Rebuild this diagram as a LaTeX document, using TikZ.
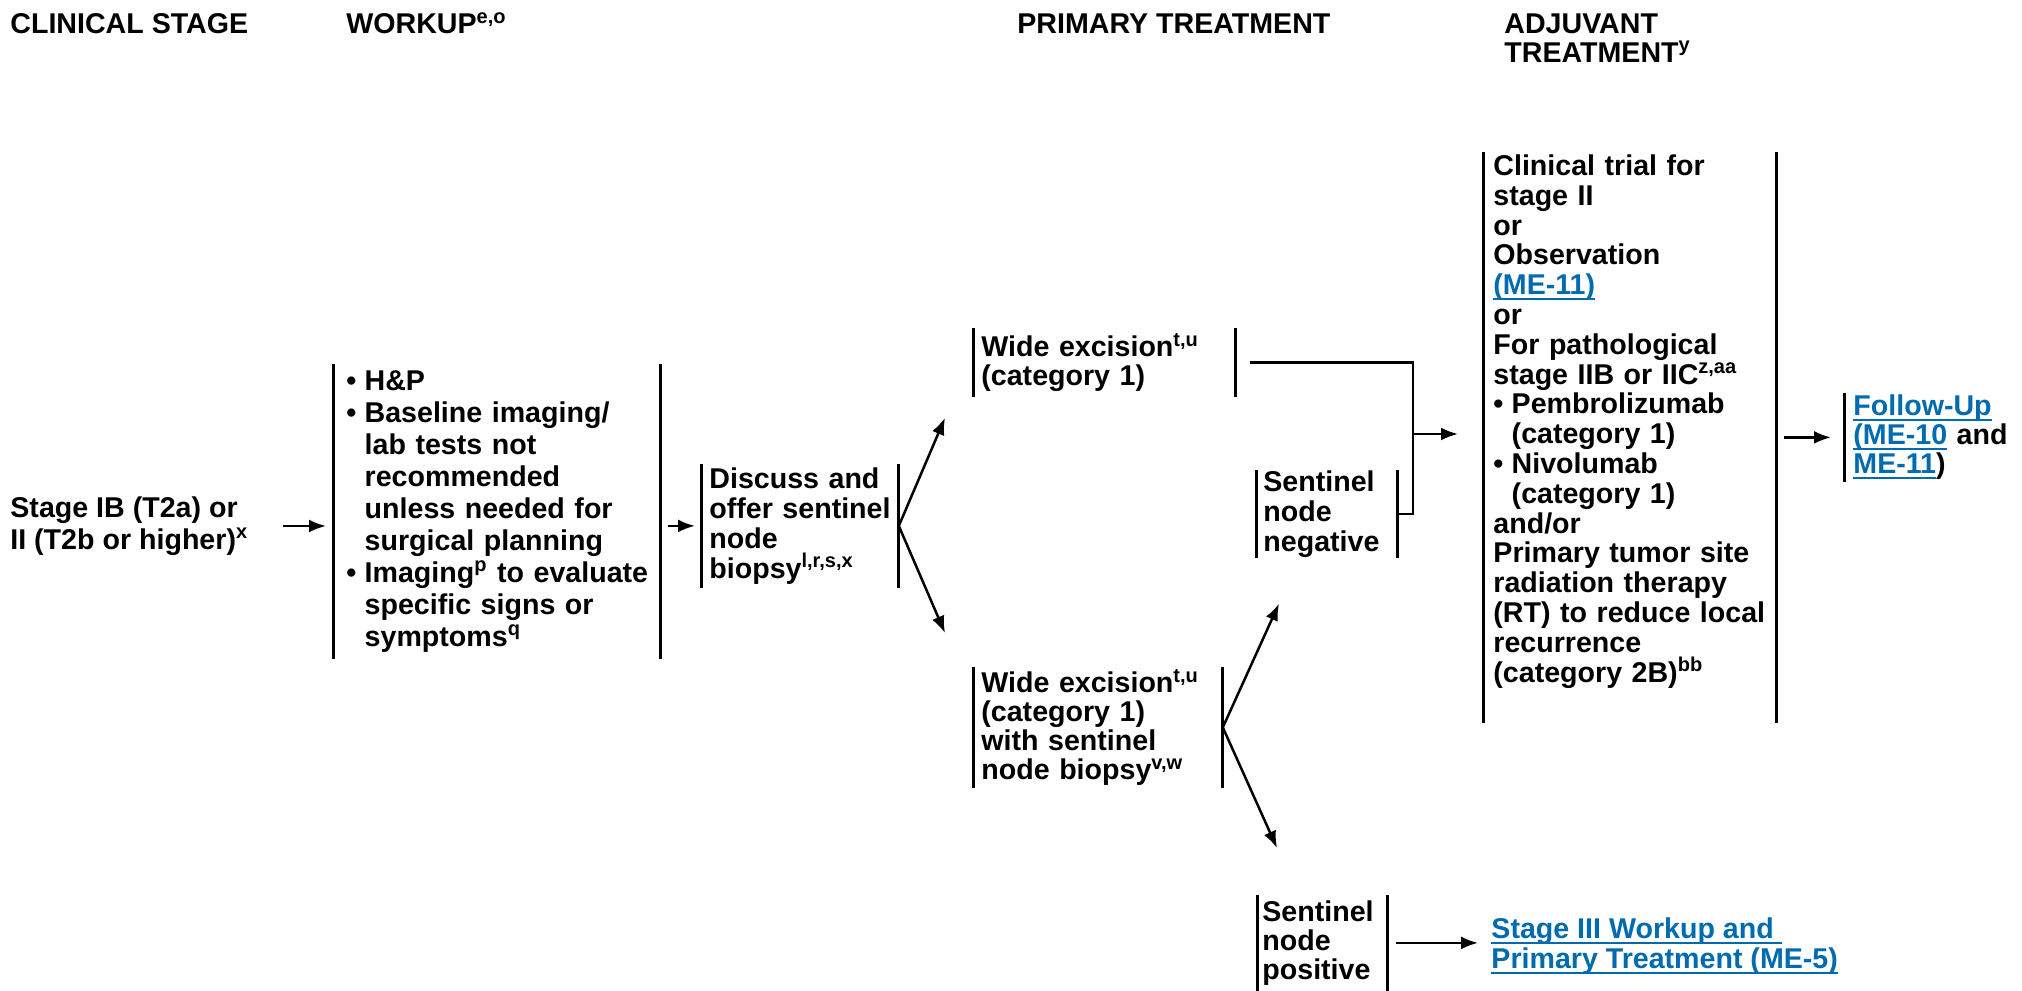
\documentclass[tikz,border=0pt]{standalone}
\usepackage{fontspec}
\setmainfont{Liberation Sans}
\usetikzlibrary{arrows.meta}
\definecolor{linkblue}{RGB}{0,107,174}
\newcommand{\lnk}[1]{\textcolor{linkblue}{\sbox0{#1}\rlap{\rule[-2.6pt]{\wd0}{0.9pt}}\usebox0}}
\newcommand{\bl}{\makebox[0.64em][l]{\textbullet}}
\newcommand{\ind}{\hspace*{0.64em}}
\tikzset{
  lsp/.style={font=\fontsize{14.3}{#1}\selectfont\bfseries},
  txt/.style={lsp=14.5pt, inner sep=0pt, align=left},
  box/.style={txt, anchor=north west, text width=#1},
  bar/.style={line width=1.5pt},
  ln/.style={line width=1.25pt},
  arr/.style={ln, -{Latex[length=8.5pt,width=6.5pt]}},
}
\begin{document}
\begin{tikzpicture}[x=0.5pt,y=-0.5pt]
\useasboundingbox (0,0) rectangle (2022,990);

\node[txt, anchor=base west] (hstage) at (10,34) {CLINICAL STAGE};
\node[txt, anchor=base west] (hwork) at (346,34) {WORKUP\textsuperscript{e,o}};
\node[txt, anchor=base west] (hprim) at (1017,34) {PRIMARY TREATMENT};
\node[txt, anchor=north west] (hadj) at (1504,13) {ADJUVANT\\TREATMENT\textsuperscript{y}};

\node[txt, lsp=16pt, anchor=west] (stage) at (10,526) {Stage IB (T2a) or\\II (T2b or higher)\textsuperscript{x}};
\node[box=157pt, lsp=16pt, minimum height=147pt] (work) at (346,364) {\bl H\&P\\
\bl Baseline imaging/\\
\ind lab tests not\\
\ind recommended\\
\ind unless needed for\\
\ind surgical planning\\
\bl Imaging\textsuperscript{p} to evaluate\\
\ind specific signs or\\
\ind symptoms\textsuperscript{q}};
\node[box=94.5pt, lsp=15pt, minimum height=61.5pt] (disc) at (709,464) {Discuss and\\offer sentinel\\node\\biopsy\textsuperscript{l,r,s,x}};
\node[box=127pt, minimum height=34pt] (we1) at (981,328) {Wide excision\textsuperscript{t,u}\\(category 1)};
\node[box=67pt, lsp=15pt, minimum height=43pt] (neg) at (1263,470) {Sentinel\\node\\negative};
\node[box=120.5pt, minimum height=60pt] (we2) at (981,667) {Wide excision\textsuperscript{t,u}\\(category 1)\\with sentinel\\node biopsy\textsuperscript{v,w}};
\node[box=62.5pt, minimum height=47.5pt] (pos) at (1262,895) {Sentinel\\node\\positive};
\node[box=141.5pt, lsp=14.9pt, minimum height=285pt] (adj) at (1493,152) {Clinical trial for\\
stage II\\
or\\
Observation\\
\lnk{(ME-11)}\\
or\\
For pathological\\
stage IIB or IIC\textsuperscript{z,aa}\\
\bl Pembrolizumab\\
\ind (category 1)\\
\bl Nivolumab\\
\ind (category 1)\\
and/or\\
Primary tumor site\\
radiation therapy\\
(RT) to reduce local\\
recurrence\\
(category 2B)\textsuperscript{bb}\rule[-19pt]{0pt}{0pt}};
\node[box=84.5pt, minimum height=44pt] (fu) at (1853,393) {\lnk{Follow-Up}\\\lnk{(ME-10} and\\\lnk{ME-11})};
\node[txt, lsp=15pt, anchor=west] (st3) at (1491,946) {\lnk{Stage III Workup and\ }\\\lnk{Primary Treatment (ME-5)}};

\foreach \n/\p in {work/6.5pt,disc/4pt,we1/4pt,neg/3.5pt,we2/4pt,pos/2.5pt,adj/5pt}{
  \draw[bar] ([xshift=-\p]\n.north west) -- ([xshift=-\p]\n.south west);
  \draw[bar] (\n.north east) -- (\n.south east);
}
\draw[bar] ([xshift=-4.5pt]fu.north west) -- ([xshift=-4.5pt]fu.south west);

\draw[arr, shorten <=17pt, shorten >=10pt] (stage.east) -- (stage.east -| work.west);
\draw[arr, shorten <=3.5pt, shorten >=7pt] (disc.west -| work.east) -- (disc.west);
\draw[arr] (disc.east) -- ([xshift=-18pt,yshift=-10.5pt]we1.south west);
\draw[arr] (disc.east) -- ([xshift=-18pt,yshift=17pt]we2.north west);

\coordinate (jn) at (1413,434);
\draw[ln] ([xshift=7pt]we1.east) -| (jn) |- (neg.east);
\draw[arr, shorten >=17.5pt] (jn) -- (jn -| adj.west);

\draw[arr] (we2.east) -- ([xshift=8pt,yshift=-23pt]neg.south west);
\draw[arr] (we2.east) -- ([xshift=7.5pt,yshift=23.5pt]pos.north west);
\draw[arr, shorten <=4pt, shorten >=6.5pt] (pos.east) -- (pos.east -| st3.west);
\draw[arr, shorten <=3.5pt, shorten >=11pt] (adj.east |- fu.west) -- (fu.west);
\end{tikzpicture}
\end{document}
